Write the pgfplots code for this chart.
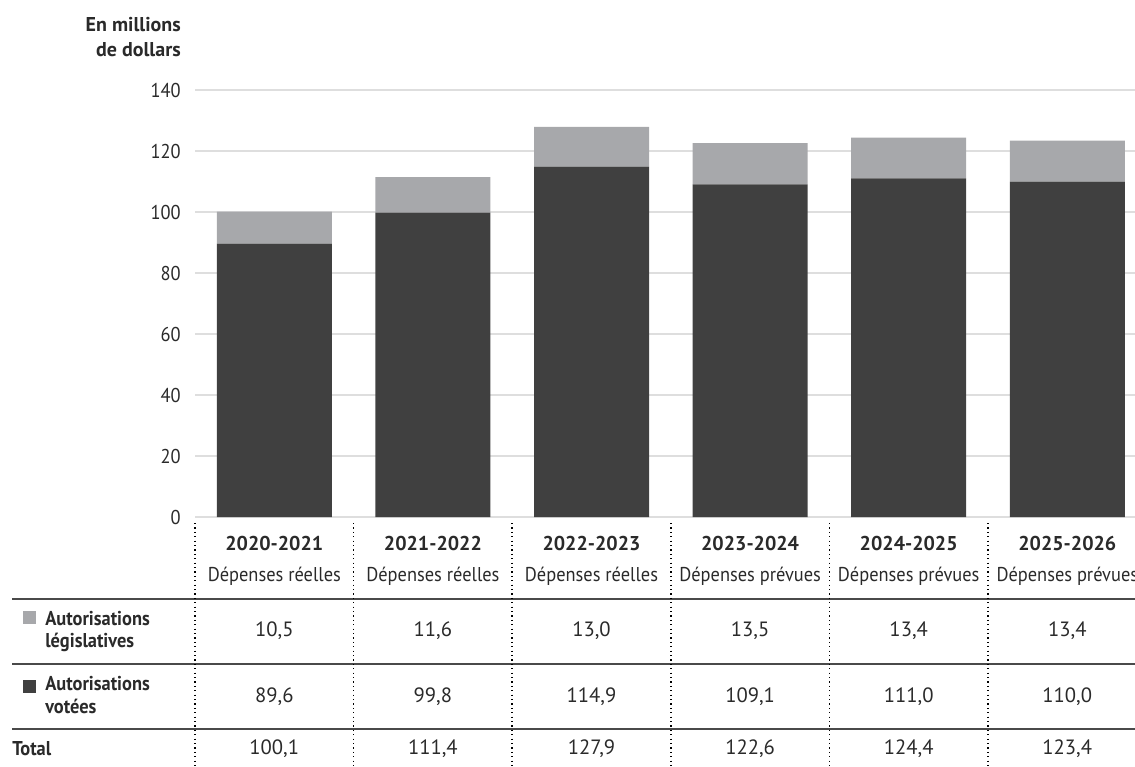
\documentclass[border=0pt]{standalone}
\usepackage{pgfplots}
\pgfplotsset{compat=1.18}
\usepackage{fontspec}
\setmainfont{PT Sans}[FakeStretch=0.92]
\newfontfamily\widefont{PT Sans}
\definecolor{darkbar}{HTML}{404040}
\definecolor{lightbar}{HTML}{A7A8AB}
\definecolor{txtc}{HTML}{2A2A2A}
\definecolor{gridc}{HTML}{DEDEDE}
\definecolor{rulec}{HTML}{4A4A4A}
\newcommand\nfont{\fontsize{15}{18}\selectfont}
\newcommand\bfont{\fontsize{15}{18}\selectfont\bfseries}
\newcommand\vfont{\widefont\fontsize{15.5}{18}\selectfont}
\newcommand\yfont{\widefont\fontsize{15}{18}\selectfont\bfseries}
\begin{document}
\begin{tikzpicture}[x=0.75pt,y=0.75pt]
\useasboundingbox (0,0) rectangle (1135,-767);
\begin{axis}[
  at={(146.25pt,-387.75pt)}, anchor=south west,
  scale only axis, width=713.7pt, height=320.25pt,
  xmin=-0.5, xmax=5.5, ymin=0, ymax=140,
  ytick={0,20,...,140}, xtick=\empty,
  ymajorgrids, grid style={draw=gridc, line width=0.9pt},
  axis line style={draw=none}, major tick length=0pt,
  /pgf/number format/assume math mode=true,
  yticklabel style={font=\nfont, text=txtc, inner sep=0pt, xshift=-10.5pt},
  ybar stacked, bar width=86.25pt,
  clip=false,
]
\addplot[fill=darkbar, draw=none] coordinates {(0,89.6) (1,99.8) (2,114.9) (3,109.1) (4,111.0) (5,110.0)};
\addplot[fill=lightbar, draw=none] coordinates {(0,10.5) (1,11.6) (2,13.0) (3,13.5) (4,13.4) (5,13.4)};
% headers
\node[anchor=base, font=\yfont, text=txtc] at (axis cs:0,-10.82) {2020-2021};
\node[anchor=base, font=\yfont, text=txtc] at (axis cs:1,-10.82) {2021-2022};
\node[anchor=base, font=\yfont, text=txtc] at (axis cs:2,-10.82) {2022-2023};
\node[anchor=base, font=\yfont, text=txtc] at (axis cs:3,-10.82) {2023-2024};
\node[anchor=base, font=\yfont, text=txtc] at (axis cs:4,-10.82) {2024-2025};
\node[anchor=base, font=\yfont, text=txtc] at (axis cs:5,-10.82) {2025-2026};
\node[anchor=base, font=\nfont, text=txtc] at (axis cs:0,-21.3) {Dépenses réelles};
\node[anchor=base, font=\nfont, text=txtc] at (axis cs:1,-21.3) {Dépenses réelles};
\node[anchor=base, font=\nfont, text=txtc] at (axis cs:2,-21.3) {Dépenses réelles};
\node[anchor=base, font=\nfont, text=txtc] at (axis cs:3,-21.3) {Dépenses prévues};
\node[anchor=base, font=\nfont, text=txtc] at (axis cs:4,-21.3) {Dépenses prévues};
\node[anchor=base, font=\nfont, text=txtc] at (axis cs:5,-21.3) {Dépenses prévues};
% row 1
\node[anchor=base, font=\vfont, text=txtc] at (axis cs:0,-39.3) {10,5};
\node[anchor=base, font=\vfont, text=txtc] at (axis cs:1,-39.3) {11,6};
\node[anchor=base, font=\vfont, text=txtc] at (axis cs:2,-39.3) {13,0};
\node[anchor=base, font=\vfont, text=txtc] at (axis cs:3,-39.3) {13,5};
\node[anchor=base, font=\vfont, text=txtc] at (axis cs:4,-39.3) {13,4};
\node[anchor=base, font=\vfont, text=txtc] at (axis cs:5,-39.3) {13,4};
% row 2
\node[anchor=base, font=\vfont, text=txtc] at (axis cs:0,-60.7) {89,6};
\node[anchor=base, font=\vfont, text=txtc] at (axis cs:1,-60.7) {99,8};
\node[anchor=base, font=\vfont, text=txtc] at (axis cs:2,-60.7) {114,9};
\node[anchor=base, font=\vfont, text=txtc] at (axis cs:3,-60.7) {109,1};
\node[anchor=base, font=\vfont, text=txtc] at (axis cs:4,-60.7) {111,0};
\node[anchor=base, font=\vfont, text=txtc] at (axis cs:5,-60.7) {110,0};
% total
\node[anchor=base, font=\vfont, text=txtc] at (axis cs:0,-78.0) {100,1};
\node[anchor=base, font=\vfont, text=txtc] at (axis cs:1,-78.0) {111,4};
\node[anchor=base, font=\vfont, text=txtc] at (axis cs:2,-78.0) {127,9};
\node[anchor=base, font=\vfont, text=txtc] at (axis cs:3,-78.0) {122,6};
\node[anchor=base, font=\vfont, text=txtc] at (axis cs:4,-78.0) {124,4};
\node[anchor=base, font=\vfont, text=txtc] at (axis cs:5,-78.0) {123,4};
\end{axis}
% y title
\node[anchor=base east, font=\yfont, text=txtc, inner sep=0pt] at (181,-32) {En millions};
\node[anchor=base east, font=\yfont, text=txtc, inner sep=0pt] at (181,-57) {de dollars};
% table rules
\draw[rulec, line width=1.1pt] (12,-599) -- (1135,-599);
\draw[rulec, line width=1.1pt] (12,-664) -- (1135,-664);
\draw[rulec, line width=1.1pt] (12,-729) -- (1135,-729);
\foreach \xx in {195,353.6,512.2,670.8,829.4,988} {
  \draw[black, line width=1.1pt, dash pattern=on 0.9pt off 2.4pt] (\xx,-523) -- (\xx,-767);
}
% legend squares + labels
\fill[lightbar] (23,-611) rectangle (36,-624);
\fill[darkbar] (23,-680) rectangle (36,-693);
\node[anchor=base west, font=\bfont, text=txtc, inner sep=0pt] at (45,-625) {Autorisations};
\node[anchor=base west, font=\bfont, text=txtc, inner sep=0pt] at (45,-647) {législatives};
\node[anchor=base west, font=\bfont, text=txtc, inner sep=0pt] at (45,-690) {Autorisations};
\node[anchor=base west, font=\bfont, text=txtc, inner sep=0pt] at (45,-713) {votées};
\node[anchor=base west, font=\bfont, text=txtc, inner sep=0pt] at (12,-755) {Total};
\end{tikzpicture}
\end{document}
